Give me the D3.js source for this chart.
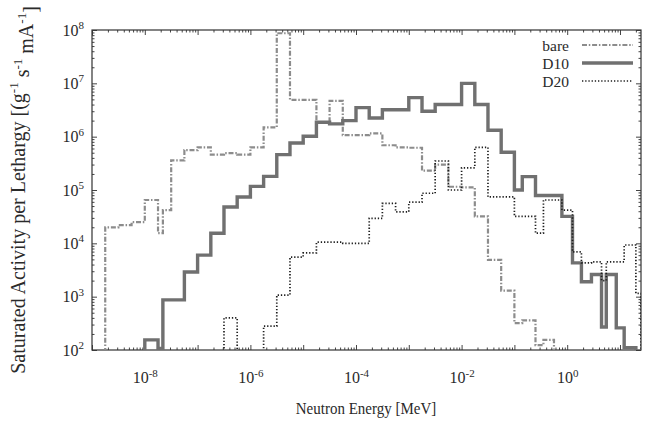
<!DOCTYPE html>
<html><head><meta charset="utf-8">
<script src="https://cdn.jsdelivr.net/npm/d3@7"></script>
<style>
body{margin:0;background:#fff}
svg{display:block}
text{font-family:"Liberation Serif","Times New Roman",serif;fill:#2a2a2a}
</style>
</head><body>
<svg id="chart" width="664" height="446"></svg>
<script>
// Energy group edges (MeV)
const energyEdges = [
  1e-9, 1.78e-9, 3.16e-9, 5.62e-9,
  1e-8, 1.78e-8, 2.2e-8, 3.16e-8, 5.62e-8,
  1e-7, 1.78e-7, 3.16e-7, 5.62e-7,
  1e-6, 1.78e-6, 3.16e-6, 5.62e-6,
  1e-5, 1.78e-5, 3.16e-5, 5.62e-5,
  1e-4, 1.78e-4, 3.16e-4, 5.62e-4,
  1e-3, 1.78e-3, 3.16e-3, 5.62e-3,
  1e-2, 1.78e-2, 3.16e-2, 5.62e-2,
  0.1, 0.141, 0.251, 0.355, 0.562, 0.794, 1.26, 1.86, 2.88, 4.47, 5.5, 8.5, 12, 20, 25
];
// Saturated activity per lethargy per group (null = below axis)
const bareValues = [
  null, 2.0e4, 2.2e4, 2.5e4,
  6.5e4, 1.55e4, 4.2e4, 3.6e5, 5.6e5,
  6.3e5, 4.6e5, 4.9e5, 4.6e5,
  6.3e5, 1.5e6, 8.7e7, 4.9e6,
  4.9e6, 1.86e6, 4.7e6, 1.07e6,
  1.07e6, 1.15e6, 6.9e5, 6.3e5,
  6.2e5, 2.3e5, 3.0e5, 1.15e5,
  1.12e5, 3.2e4, 4900, 1300,
  320, 360, 123, 155, null, null, null, null, null, null, null, null, null, null
];
const d10Values = [
  null, null, null, null,
  155, 107, 870, 870, 2900,
  6000, 15500, 48000, 74000,
  1.17e5, 1.8e5, 4.6e5, 7.6e5,
  1.02e6, 1.86e6, 1.74e6, 2.0e6,
  3.5e6, 2.24e6, 3.2e6, 3.2e6,
  5.4e6, 3.0e6, 4.0e6, 4.0e6,
  1.0e7, 4.0e6, 1.32e6, 5.1e5,
  1.0e5, 1.78e5, 7.9e4, 7.9e4, 7.9e4, 3.2e4, 4300, 1900, 2600, 270, 2600, 260, 110, null
];
const d20Values = [
  null, null, null, null,
  null, null, null, null, null,
  null, null, 400, null,
  null, 280, 1070, 5500,
  6600, 10500, 10500, 10000,
  10000, 29500, 56000, 39000,
  59000, 87000, 3.5e5, 1.0e5,
  2.6e5, 6.3e5, 7.4e4, 7.4e4,
  3.2e4, 3.2e4, 1.55e4, 6.5e4, 6.5e4, 4.2e4, 6900, 4300, 4500, 2000, 4500, 4500, 9300, 1150
];
const seriesNames = ["bare", "D10", "D20"];
const xTickExponents = [-9, -8, -7, -6, -5, -4, -3, -2, -1, 0, 1];
const xLabelExponents = [-8, -6, -4, -2, 0];
const yTickExponents = [2, 3, 4, 5, 6, 7, 8];

const svg = d3.select("#chart");
const L = 92, R = 641, T = 30, B = 350;
const x = d3.scaleLog().domain([1e-9, 25]).range([L, R]);
const y = d3.scaleLog().domain([1e2, 1e8]).range([B, T]);

const styles = {
  bare: {stroke: "#8c8c8c", width: 2.2, dash: "5,1.8,1.5,1.8"},
  D10:  {stroke: "#707070", width: 3.4, dash: null},
  D20:  {stroke: "#1e1e1e", width: 1.7, dash: "1.3,1.9"}
};

svg.append("defs").append("clipPath").attr("id", "clip")
  .append("rect").attr("x", L).attr("y", T).attr("width", R - L).attr("height", B - T);

// minor ticks
const minorX = [], minorY = [];
xTickExponents.forEach(e => { for (let k = 2; k <= 9; k++) { const v = k * Math.pow(10, e); if (v <= 25) minorX.push(v); } });
yTickExponents.slice(0, -1).forEach(e => { for (let k = 2; k <= 9; k++) minorY.push(k * Math.pow(10, e)); });
const xMajor = xTickExponents.map(e => Math.pow(10, e));
const yMajor = yTickExponents.map(e => Math.pow(10, e));

function styleAxis(g) {
  g.select(".domain").remove();
  g.selectAll(".tick line").attr("stroke", "#444").attr("stroke-width", 1);
}
svg.append("g").attr("transform", `translate(0,${B})`).call(d3.axisBottom(x).tickValues(minorX).tickSize(-2.5).tickFormat("")).call(styleAxis);
svg.append("g").attr("transform", `translate(0,${T})`).call(d3.axisTop(x).tickValues(minorX).tickSize(-2.5).tickFormat("")).call(styleAxis);
svg.append("g").attr("transform", `translate(${L},0)`).call(d3.axisLeft(y).tickValues(minorY).tickSize(-2.5).tickFormat("")).call(styleAxis);
svg.append("g").attr("transform", `translate(${R},0)`).call(d3.axisRight(y).tickValues(minorY).tickSize(-2.5).tickFormat("")).call(styleAxis);

function supLabels(sel, show) {
  sel.selectAll(".tick text").each(function(d) {
    const e = Math.round(Math.log10(d));
    const t = d3.select(this).text(null);
    if (!show(e)) return;
    t.append("tspan").text("10");
    t.append("tspan").attr("dy", "-0.6em").attr("font-size", "11px").text(e);
  });
}
const xb = svg.append("g").attr("transform", `translate(0,${B})`)
  .call(d3.axisBottom(x).tickValues(xMajor).tickSize(-5).tickPadding(22).tickFormat(d => "x"));
styleAxis(xb);
xb.selectAll(".tick text").attr("font-size", "16px").attr("font-family", "Liberation Serif, serif").attr("fill", "#2a2a2a");
supLabels(xb, e => xLabelExponents.includes(e));
svg.append("g").attr("transform", `translate(0,${T})`).call(d3.axisTop(x).tickValues(xMajor).tickSize(-5).tickFormat("")).call(styleAxis);
const yl = svg.append("g").attr("transform", `translate(${L},0)`)
  .call(d3.axisLeft(y).tickValues(yMajor).tickSize(-5).tickPadding(8).tickFormat(d => "x"));
styleAxis(yl);
yl.selectAll(".tick text").attr("font-size", "16px").attr("font-family", "Liberation Serif, serif").attr("fill", "#2a2a2a");
supLabels(yl, e => true);
svg.append("g").attr("transform", `translate(${R},0)`).call(d3.axisRight(y).tickValues(yMajor).tickSize(-5).tickFormat("")).call(styleAxis);

// frame
svg.append("rect").attr("x", L).attr("y", T).attr("width", R - L).attr("height", B - T)
  .attr("fill", "none").attr("stroke", "#333").attr("stroke-width", 1.2);

// step paths
function stepPoints(values) {
  const floor = B + 20;
  const pts = [[x(energyEdges[0]), floor]];
  values.forEach((v, i) => {
    const yy = v == null ? floor : y(v);
    pts.push([x(energyEdges[i]), yy], [x(energyEdges[i + 1]), yy]);
  });
  pts.push([x(energyEdges[values.length]), floor]);
  return pts;
}
const line = d3.line();
const plot = svg.append("g").attr("clip-path", "url(#clip)");
[["bare", bareValues], ["D10", d10Values], ["D20", d20Values]].forEach(([name, vals]) => {
  const s = styles[name];
  plot.append("path").attr("d", line(stepPoints(vals)))
    .attr("fill", "none").attr("stroke", s.stroke).attr("stroke-width", s.width)
    .attr("stroke-dasharray", s.dash).attr("stroke-linejoin", "miter");
});

// legend
const legendY = [45, 63, 81];
seriesNames.forEach((name, i) => {
  const s = styles[name];
  svg.append("text").attr("x", 569).attr("y", legendY[i] + 5.5).attr("text-anchor", "end")
    .attr("font-size", "15.5px").text(name);
  svg.append("line").attr("x1", 582).attr("x2", 633).attr("y1", legendY[i]).attr("y2", legendY[i])
    .attr("stroke", s.stroke).attr("stroke-width", s.width).attr("stroke-dasharray", s.dash);
});

// axis titles
svg.append("text").attr("transform", "translate(366,414) scale(1,1.15)").attr("text-anchor", "middle")
  .attr("font-size", "15px").text("Neutron Energy [MeV]");
const yt = svg.append("text").attr("transform", "translate(25,190) rotate(-90)")
  .attr("text-anchor", "middle").attr("font-size", "20px");
yt.append("tspan").text("Saturated Activity per Lethargy [(g");
yt.append("tspan").attr("dy", "-0.55em").attr("font-size", "13px").text("-1");
yt.append("tspan").attr("dy", "0.55em").text(" s");
yt.append("tspan").attr("dy", "-0.55em").attr("font-size", "13px").text("-1");
yt.append("tspan").attr("dy", "0.55em").text(" mA");
yt.append("tspan").attr("dy", "-0.55em").attr("font-size", "13px").text("-1");
yt.append("tspan").attr("dy", "0.55em").text("]");
</script>
</body></html>
